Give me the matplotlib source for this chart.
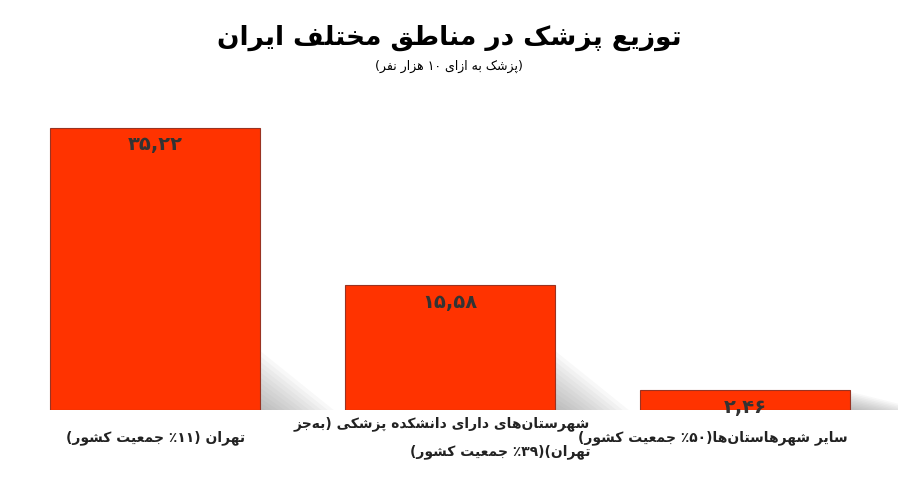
import numpy as np
import matplotlib
matplotlib.use('Agg')
import matplotlib.pyplot as plt
from matplotlib.patches import Polygon

plt.rcParams['font.family'] = ['DejaVu Sans']

# forms: isolated, final, initial, medial
FORMS = {
    'ا': (0xFE8D, 0xFE8E, None, None), 'ب': (0xFE8F, 0xFE90, 0xFE91, 0xFE92),
    'پ': (0xFB56, 0xFB57, 0xFB58, 0xFB59), 'ت': (0xFE95, 0xFE96, 0xFE97, 0xFE98),
    'ج': (0xFE9D, 0xFE9E, 0xFE9F, 0xFEA0), 'خ': (0xFEA5, 0xFEA6, 0xFEA7, 0xFEA8),
    'د': (0xFEA9, 0xFEAA, None, None), 'ر': (0xFEAD, 0xFEAE, None, None),
    'ز': (0xFEAF, 0xFEB0, None, None), 'ژ': (0xFB8A, 0xFB8B, None, None),
    'س': (0xFEB1, 0xFEB2, 0xFEB3, 0xFEB4), 'ش': (0xFEB5, 0xFEB6, 0xFEB7, 0xFEB8),
    'ط': (0xFEC1, 0xFEC2, 0xFEC3, 0xFEC4), 'ع': (0xFEC9, 0xFECA, 0xFECB, 0xFECC),
    'ف': (0xFED1, 0xFED2, 0xFED3, 0xFED4), 'ق': (0xFED5, 0xFED6, 0xFED7, 0xFED8),
    'ک': (0xFB8E, 0xFB8F, 0xFB90, 0xFB91), 'ل': (0xFEDD, 0xFEDE, 0xFEDF, 0xFEE0),
    'م': (0xFEE1, 0xFEE2, 0xFEE3, 0xFEE4), 'ن': (0xFEE5, 0xFEE6, 0xFEE7, 0xFEE8),
    'ه': (0xFEE9, 0xFEEA, 0xFEEB, 0xFEEC), 'و': (0xFEED, 0xFEEE, None, None),
    'ی': (0xFBFC, 0xFBFD, 0xFBFE, 0xFBFF),
}


def joins_left(c):
    return c in FORMS and FORMS[c][2] is not None


def fa(text):
    out = []
    for i, c in enumerate(text):
        if c not in FORMS:
            out.append(c)
            continue
        prev = text[i - 1] if i > 0 else ''
        nxt = text[i + 1] if i + 1 < len(text) else ''
        jp = joins_left(prev)
        jn = joins_left(c) and nxt in FORMS
        f = FORMS[c]
        idx = 3 if (jp and jn) else 1 if jp else 2 if jn else 0
        out.append(chr(f[idx]))
    s = ''.join(out).replace('\u200c', '')
    # visual order: reverse, keep digit runs LTR, mirror parens
    s = s[::-1]
    res, run = [], ''
    for ch in s:
        if ch.isdigit() or (run and ch in ',٫'):
            run += ch
        else:
            if run:
                res.append(run[::-1]); run = ''
            res.append({'(': ')', ')': '('}.get(ch, ch))
    if run:
        res.append(run[::-1])
    return ''.join(res)


categories = ['تهران (۱۱٪ جمعیت کشور)',
              'شهرستان‌های دارای دانشکده پزشکی (به‌جز\nتهران)(۳۹٪ جمعیت کشور)',
              'سایر شهرهاستان‌ها(۵۰٪ جمعیت کشور)']
values = [35.22, 15.58, 2.46]
value_labels = ['۳۵,۲۲', '۱۵,۵۸', '۲,۴۶']

fig = plt.figure(figsize=(8.98, 4.98), dpi=100)
ax = fig.add_axes([0, 88 / 498, 1, 320 / 498])
ax.set_xlim(-0.525, 2.519)
ax.set_ylim(0, 40)
ax.axis('off')

x = np.arange(len(values))
w = 0.712
for xi, v in zip(x, values):
    # soft shadow
    xr = xi + w / 2
    for k in range(12):
        a = 0.05
        poly = Polygon([(xr - 0.02, 0), (xr - 0.02, min(v, 8) * (1 - k / 12)),
                        (xr + 0.25 * (1 - k / 12), 0)], closed=True,
                       color='#777777', alpha=a, lw=0, zorder=1)
        ax.add_patch(poly)
bars = ax.bar(x, values, width=w, color='#FF3300', edgecolor='#993322', lw=0.8, zorder=2)
for xi, v, lab in zip(x, values, value_labels):
    ax.text(xi, v - 0.9, lab, ha='center', va='top', fontsize=14,
            fontweight='bold', color='#333333', zorder=3)

label_pos = [(245, 438), (590, 438), (848, 438)]
for (px, py), cat in zip(label_pos, categories):
    txt = '\n'.join(fa(l) for l in cat.split('\n'))
    fig.text(px / 898, 1 - py / 498, txt, ha='right', va='center', fontsize=10,
             fontweight='bold', color='#222222', linespacing=2.2,
             multialignment='right')

fig.text(0.5, 1 - 38 / 498, fa('توزیع پزشک در مناطق مختلف ایران'), ha='center',
         va='center', fontsize=19, fontweight='bold')
fig.text(0.5, 1 - 66 / 498, fa('(پزشک به ازای ۱۰ هزار نفر)'), ha='center',
         va='center', fontsize=9)

fig.savefig('out.png', dpi=100)
